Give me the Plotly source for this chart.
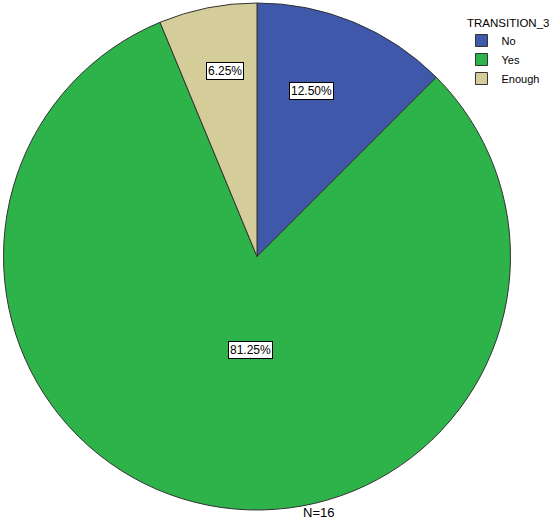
import math
import plotly.graph_objects as go

labels = ["No", "Yes", "Enough"]
counts = [2, 13, 1]
colors = ["#3F58AA", "#2DB34A", "#D4CD99"]
n_total = sum(counts)
legend_title = "TRANSITION_3"

W, H = 552, 532
# pie box in pixels
x0, x1, y0, y1 = 3, 511, 3, 510
cx, cy = (x0 + x1) / 2, (y0 + y1) / 2
R = (x1 - x0) / 2
FONT = "Liberation Sans, Arial"

fig = go.Figure(go.Pie(labels=labels, values=counts, sort=False,
                       direction="clockwise", rotation=0,
                       marker=dict(colors=colors, line=dict(color="#333333", width=1)),
                       textinfo="none", hoverinfo="label+percent",
                       domain=dict(x=[x0 / W, x1 / W], y=[1 - y1 / H, 1 - y0 / H])))

# percent labels in white boxes, like SPSS (radius fraction, angle nudge in deg)
label_pos = {"No": (0.72, -5), "Yes": (0.37, -7), "Enough": (0.775, 2)}
cum = 0
for lab, c in zip(labels, counts):
    frac, nudge = label_pos[lab]
    mid = (cum + c / 2) / n_total * 2 * math.pi + math.radians(nudge)
    cum += c
    r = R * frac
    px_ = cx + r * math.sin(mid)
    py_ = cy - r * math.cos(mid)
    fig.add_annotation(x=px_ / W, y=1 - py_ / H, xref="paper", yref="paper",
                       text="%.2f%%" % (100 * c / n_total), showarrow=False,
                       font=dict(family=FONT, size=12, color="black"),
                       bgcolor="white", bordercolor="black", borderwidth=1, borderpad=1)

fig.add_annotation(x=318 / W, y=1 - 522 / H, xref="paper", yref="paper",
                   text="N=" + str(n_total), showarrow=False,
                   font=dict(family=FONT, size=13, color="black"))

# legend title drawn separately so it is not clipped
fig.add_annotation(x=465 / W, y=1 - 15 / H, xref="paper", yref="paper",
                   xanchor="left", text=legend_title, showarrow=False,
                   font=dict(family=FONT, size=11.5, color="black"))

fig.update_layout(width=W, height=H, margin=dict(l=0, r=0, t=0, b=0),
                  paper_bgcolor="white",
                  font=dict(family=FONT, color="black"),
                  legend=dict(x=0.836, y=1 - 26 / H, xanchor="left", yanchor="top",
                              font=dict(size=11), tracegroupgap=0,
                              itemwidth=30, bgcolor="rgba(0,0,0,0)"))

# page body has an 8px default margin; drop it so the figure fills the window
fig.write_html("out.html", config={"displayModeBar": False},
               post_script="document.body.style.margin='0';")
